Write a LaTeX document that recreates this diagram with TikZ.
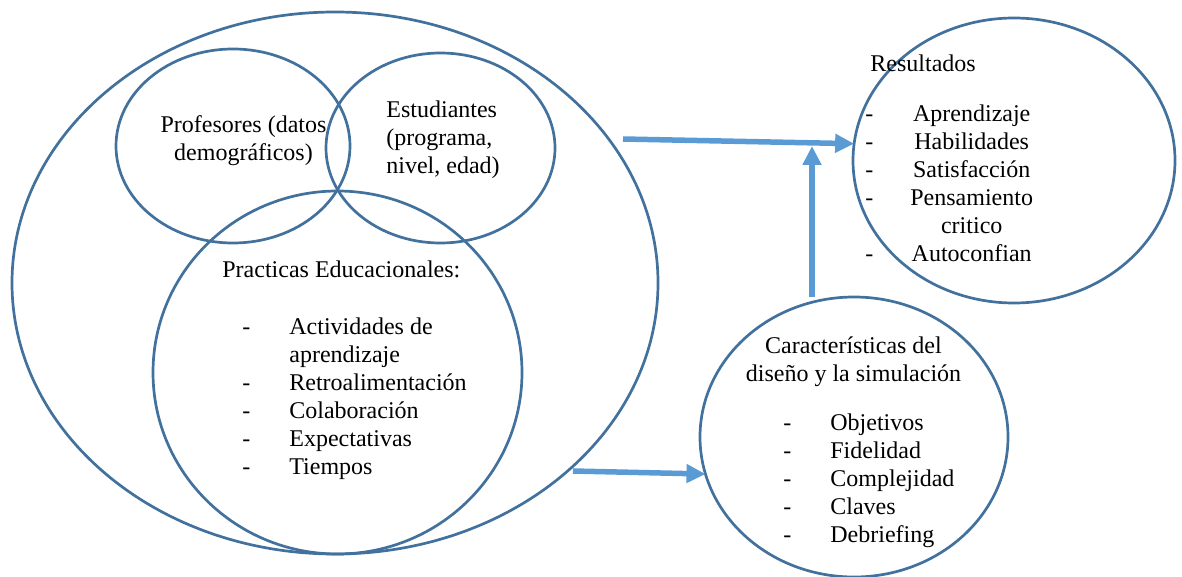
\documentclass[tikz,border=0pt]{standalone}
\usepackage{fontspec}
\setmainfont{Liberation Serif}
\usetikzlibrary{shapes.geometric,arrows.meta}
\definecolor{ringblue}{HTML}{41719C}
\definecolor{linkblue}{HTML}{5B9BD5}

\begin{document}
\begin{tikzpicture}[x=0.5pt,y=-0.5pt]
\tikzstyle{ring}=[ellipse, draw=ringblue, line width=1.35pt, inner sep=0pt, outer sep=0pt]
\tikzstyle{link}=[-{Triangle[length=9.5pt,width=9pt]}, draw=linkblue, line width=2.75pt]
\tikzstyle{txt}=[inner sep=0pt, font=\fontsize{12}{14}\selectfont]
\useasboundingbox (0,0) rectangle (1182,577);
  % outer set
  \node[ring, minimum width=323pt, minimum height=271pt] (venn) at (335,283) {};
  % profesores
  \node[ring, minimum width=117pt, minimum height=97pt] (prof) at (233,146) {};
  % estudiantes
  \node[ring, minimum width=114.5pt, minimum height=95pt] (est) at (440.5,148) {};
  % practicas
  \node[ring, minimum width=184.5pt, minimum height=181.5pt] (prac) at (337.5,372.5) {};
  % resultados
  \node[ring, minimum width=161pt, minimum height=142.5pt] (res) at (1014,160.5) {};
  % caracteristicas
  \node[ring, minimum width=154pt, minimum height=140pt] (car) at (854,437) {};

  \node[txt, anchor=base] (proftxt) at (243.5,133)
    {\begin{tabular}[t]{@{}c@{}}Profesores (datos\\demográficos)\end{tabular}};
  \node[txt, anchor=base west] (esttxt) at (386,118)
    {\begin{tabular}[t]{@{}l@{}}Estudiantes\\(programa,\\nivel, edad)\end{tabular}};
  \node[txt, anchor=base west] (practxt) at (222,278) {Practicas Educacionales:};
  \node[txt, anchor=base west] (praclist) at (242,334)
    {\begin{tabular}[t]{@{}p{23.5pt}@{}l@{}}
      - & Actividades de\\
        & aprendizaje\\
      - & Retroalimentación\\
      - & Colaboración\\
      - & Expectativas\\
      - & Tiempos
    \end{tabular}};
  \node[txt, anchor=base west] (restxt) at (870,72) {Resultados};
  \node[txt, anchor=base west] (reslist) at (865,122)
    {\begin{tabular}[t]{@{}p{22.5pt}@{}c@{}}
      - & Aprendizaje\\
      - & Habilidades\\
      - & Satisfacción\\
      - & Pensamiento\\
        & critico\\
      - & Autoconfian
    \end{tabular}};
  \node[txt, anchor=base] (cartxt) at (853.5,353)
    {\begin{tabular}[t]{@{}c@{}}Características del\\diseño y la simulación\end{tabular}};
  \node[txt, anchor=base west] (carlist) at (783,430)
    {\begin{tabular}[t]{@{}p{23.5pt}@{}l@{}}
      - & Objetivos\\
      - & Fidelidad\\
      - & Complejidad\\
      - & Claves\\
      - & Debriefing
    \end{tabular}};

  \coordinate (out1) at (623,139);
  \coordinate (out2) at (573,471);
  \coordinate (meet) at (812,146);
  \draw[link] (out1) -- (res.174);
  \draw[link] (car.north -| meet) -- (meet);
  \draw[link] (out2) -- (car.194);
\end{tikzpicture}
\end{document}
